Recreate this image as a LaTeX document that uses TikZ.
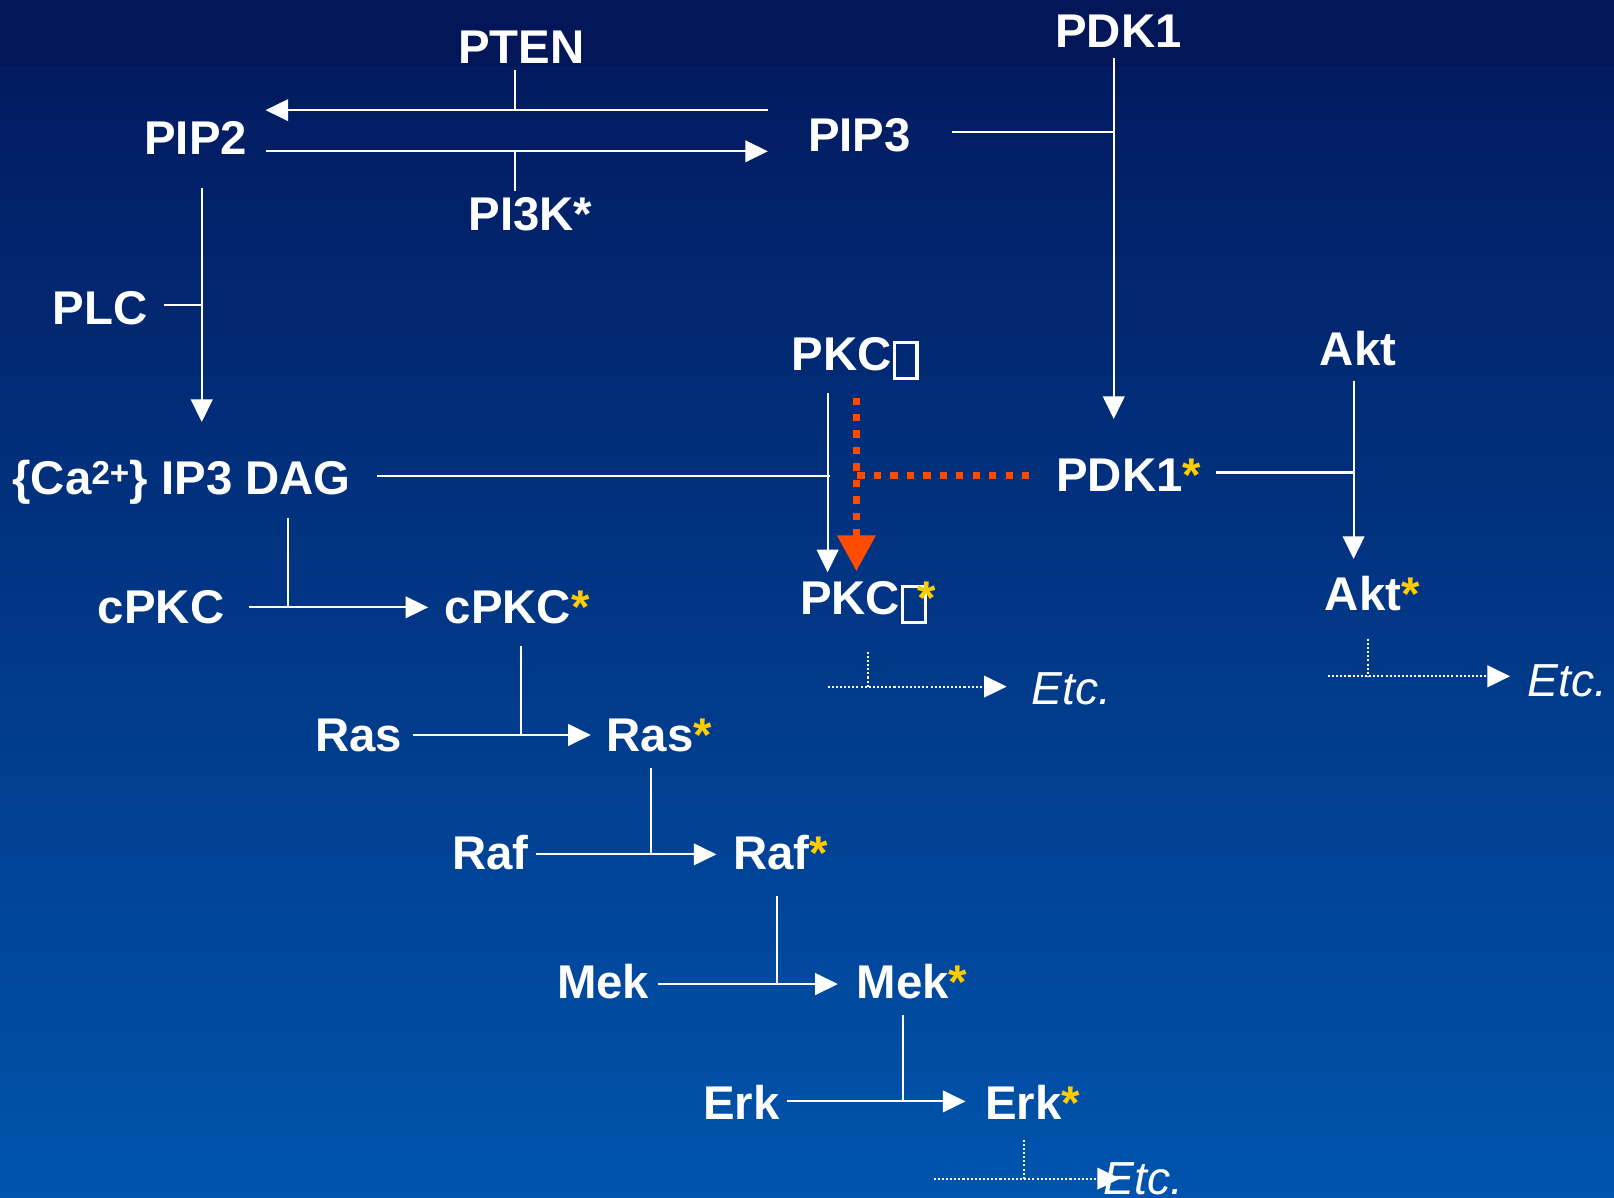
\documentclass[tikz,border=0pt]{standalone}
\usepackage{fontspec}
\setmainfont{Liberation Sans}
\usetikzlibrary{arrows.meta}
\definecolor{topband}{RGB}{2,22,88}
\definecolor{bgtop}{RGB}{2,27,96}
\definecolor{bgbot}{RGB}{0,84,173}
\definecolor{star}{RGB}{255,204,0}
\definecolor{dotorange}{RGB}{255,76,0}
\newcommand{\st}{\textcolor{star}{*}}
\newcommand{\nog}{\kern1pt\raisebox{-6pt}{\fboxsep=0pt\fboxrule=3pt\fbox{\rule{0pt}{32pt}\hspace{19pt}}}}
\begin{document}
\begin{tikzpicture}[x=1pt, y=-1pt,
    lbl/.style={anchor=base west, inner sep=0pt, text=white, font=\fontsize{46}{50}\selectfont\bfseries},
    etc/.style={anchor=base west, inner sep=0pt, text=white, font=\fontsize{45}{50}\selectfont\itshape},
    wire/.style={white, line width=2pt},
    arr/.style={wire, -{Triangle[length=22pt,width=21pt]}},
    dots/.style={white, line width=2pt, dash pattern=on 2pt off 2pt, -{Triangle[length=22pt,width=21pt]}},
    dotline/.style={white, line width=2pt, dash pattern=on 2pt off 2pt},
    odots/.style={dotorange, line width=7pt, dash pattern=on 7pt off 9pt}]
    % background
    \useasboundingbox (0,0) rectangle (1568,1163);
    \fill[topband] (0,0) rectangle (1568,65);
    \shade[top color=bgtop, bottom color=bgbot] (0,65) rectangle (1568,1163);

    \node[lbl] (pten) at (445,62) {PTEN};
    \node[lbl] (pdk) at (1025,46) {PDK1};
    \node[lbl] (pip2) at (140,150) {PIP2};
    \node[lbl] (pip3) at (785,147) {PIP3};
    \node[lbl] (pik) at (455,224) {PI3K*};
    \node[lbl] (plc) at (51,315) {PLC};
    \node[lbl] (pkc) at (769,360) {PKC\nog};
    \node[lbl] (akt) at (1282,355) {Akt};
    \node[lbl] (dag) at (12,480) {\{Ca\textsuperscript{2+}\} IP3 DAG};
    \node[lbl] (pdks) at (1026,477) {PDK1\st};
    \node[lbl] (cpkc) at (95,606) {cPKC};
    \node[lbl] (cpkcs) at (432,606) {cPKC\st};
    \node[lbl] (pkcs) at (777,597) {PKC\nog\kern-9pt\st};
    \node[lbl] (akts) at (1287,593) {Akt\st};
    \node[etc] (etc1) at (1002,684) {Etc.};
    \node[etc] (etc2) at (1484,677) {Etc.};
    \node[lbl] (ras) at (306,730) {Ras};
    \node[lbl] (rass) at (589,730) {Ras\st};
    \node[lbl] (raf) at (439,845) {Raf};
    \node[lbl] (rafs) at (712,845) {Raf\st};
    \node[lbl] (mek) at (541,970) {Mek};
    \node[lbl] (meks) at (832,970) {Mek\st};
    \node[lbl] (erk) at (683,1088) {Erk};
    \node[lbl] (erks) at (957,1088) {Erk\st};
    \node[etc] (etc3) at (1072,1160) {Etc.};

    % PIP2 <-> PIP3
    \coordinate (bk) at (746,107);
    \coordinate (fw) at (258,147);
    \draw[arr] (bk) -- (bk -| fw);
    \draw[arr] (fw) -- (fw -| bk);
    \draw[wire, shorten <=6pt] (pten.south -| 500,0) -- (500,107);
    \draw[wire, shorten <=6pt] (pik.north -| 500,0) -- (500,147);

    % PIP3 -> PDK1*
    \draw[wire, shorten <=40pt] (pip3.east |- 0,128) -- (1082,128);
    \draw[arr, shorten <=10pt] (pdk.south -| 1082,0) -- (1082,407);

    % PIP2 -> DAG
    \draw[arr, shorten <=32pt] (pip2.south -| 196,0) -- (196,410);
    \draw[wire, shorten <=16pt] (plc.east |- 0,296) -- (196,296);

    % DAG, PDK1* -> PKC
    \draw[wire, shorten <=25pt] (dag.east |- 0,462) -- (806,462);
    \draw[arr, shorten <=13pt] (pkc.south -| 804,0) -- (804,556);
    \draw[odots, -{Triangle[length=35pt,width=36pt]}, shorten <=17pt] (pkc.south -| 832,0) -- (832,555);
    \draw[odots, shorten <=26pt] (pdks.west |- 0,462) -- (832,462);

    % PDK1* -> Akt
    \draw[wire, shorten <=14pt] (pdks.east |- 0,459) -- (1316,459);
    \draw[arr, shorten <=15pt] (akt.south -| 1315,0) -- (1315,543);

    % cascade
    \draw[wire, shorten <=13pt] (dag.south -| 280,0) -- (280,590);
    \draw[arr, shorten <=24pt, shorten >=16pt] (cpkc.east |- 0,590) -- (cpkcs.west |- 0,590);
    \draw[wire, shorten <=21pt] (cpkcs.south -| 506,0) -- (506,714);
    \draw[arr, shorten <=10pt, shorten >=15pt] (ras.east |- 0,714) -- (rass.west |- 0,714);
    \draw[wire, shorten <=15pt] (rass.south -| 632,0) -- (632,830);
    \draw[arr, shorten <=7pt, shorten >=16pt] (raf.east |- 0,830) -- (rafs.west |- 0,830);
    \draw[wire, shorten <=25pt] (rafs.south -| 755,0) -- (755,956);
    \draw[arr, shorten <=8pt, shorten >=18pt] (mek.east |- 0,956) -- (meks.west |- 0,956);
    \draw[wire, shorten <=15pt] (meks.south -| 877,0) -- (877,1070);
    \draw[arr, shorten <=7pt, shorten >=19pt] (erk.east |- 0,1070) -- (erks.west |- 0,1070);

    % Etc.
    \coordinate (e1) at (804,667);
    \coordinate (e2) at (1290,657);
    \coordinate (e3) at (907,1145);
    \draw[dotline, shorten <=27pt] (pkcs.south -| 843,0) -- (843,667);
    \draw[dots, shorten >=24pt] (e1) -- (etc1.west |- e1);
    \draw[dotline, shorten <=27pt] (akts.south -| 1329,0) -- (1329,657);
    \draw[dots, shorten >=17pt] (e2) -- (etc2.west |- e2);
    \draw[dotline, shorten <=19pt] (erks.south -| 995,0) -- (995,1145);
    \draw[dots, shorten >=-16pt] (e3) -- (etc3.west |- e3);
\end{tikzpicture}
\end{document}
